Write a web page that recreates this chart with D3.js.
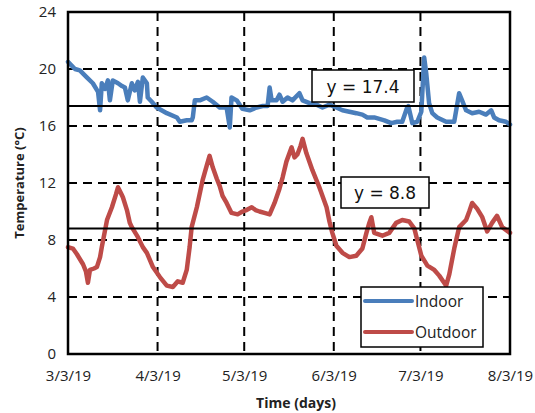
<!DOCTYPE html>
<html>
<head>
<meta charset="utf-8">
<script src="https://cdn.jsdelivr.net/npm/d3@7"></script>
<style>
  html, body { margin: 0; padding: 0; background: #fff; }
  svg { display: block; }
</style>
</head>
<body>
<svg id="chart" width="535" height="413"></svg>
<script>
// Temperature log, days counted from 3 March 2019
const indoorDays = [0, 2.4, 4.1, 6.6, 8.6, 10.4, 11.1, 11.7, 12.8, 13.8, 14.5, 15.5, 17.3, 18.7, 19.7, 20.7,
  22.1, 23.1, 24.2, 24.9, 25.9, 27.3, 27.6, 29.0, 30.7, 34.2, 37.7, 38.7, 41.1, 42.8, 43.2, 43.9,
  45.6, 48.0, 50.1, 52.5, 54.9, 56.0, 56.6, 58.4, 60.4, 62.9, 65.3, 67.4, 69.1, 69.8, 70.5, 72.2,
  73.2, 74.3, 76.0, 77.7, 80.1, 81.2, 83.6, 86.0, 88.1, 90.5, 92.9, 95.0, 97.4, 99.8, 101.9, 103.6,
  106.0, 109.5, 111.9, 114.0, 115.7, 117.4, 117.8, 119.2, 120.9, 122.3, 123.3, 124.0, 125.0, 126.1,
  127.8, 130.9, 133.7, 135.4, 136.4, 137.8, 139.9, 142.3, 144.7, 146.5, 147.5, 149.2, 151.6, 153.0];
const indoorTemp = [20.5, 20.0, 19.9, 19.4, 19.0, 18.4, 17.1, 19.0, 18.6, 19.2, 17.8, 19.2, 19.0, 18.8, 18.7, 17.8,
  19.0, 18.5, 19.1, 17.7, 19.4, 19.0, 18.0, 17.7, 17.3, 16.9, 16.6, 16.3, 16.4, 16.4, 16.6, 17.8,
  17.8, 18.0, 17.7, 17.3, 17.3, 15.9, 18.0, 17.8, 17.2, 17.1, 17.3, 17.4, 17.4, 18.7, 17.8, 17.8,
  18.2, 17.7, 18.0, 17.8, 18.3, 17.8, 17.6, 17.5, 17.3, 17.5, 17.3, 17.1, 17.0, 16.9, 16.8, 16.6,
  16.6, 16.4, 16.2, 16.3, 16.3, 17.3, 17.4, 16.2, 16.3, 17.0, 20.8, 19.7, 17.6, 16.9,
  16.6, 16.3, 16.3, 18.3, 17.8, 17.1, 16.9, 17.0, 16.8, 17.1, 16.6, 16.4, 16.3, 16.1];

const outdoorDays = [0, 1.7, 3.1, 5.2, 6.2, 6.9, 7.6, 9.0, 10.0, 11.1, 11.7, 13.5, 15.2, 16.6, 17.3, 18.3,
  19.0, 20.4, 21.4, 22.1, 24.2, 25.9, 27.3, 29.4, 31.8, 34.2, 36.3, 38.0, 39.7, 41.1, 42.1, 42.8,
  44.6, 46.6, 48.0, 49.0, 50.1, 51.5, 52.5, 53.5, 54.9, 56.6, 58.7, 60.4, 61.8, 63.6, 64.9, 66.3,
  68.0, 69.8, 71.5, 73.2, 74.3, 75.6, 77.4, 78.4, 79.4, 80.5, 81.2, 82.5, 84.6, 87.0, 89.5, 90.5,
  91.5, 92.9, 95.0, 97.4, 99.8, 101.9, 103.3, 104.3, 105.0, 106.0, 108.8, 111.2, 113.6, 115.7, 118.1,
  119.9, 120.9, 122.3, 124.4, 126.8, 128.5, 130.2, 130.9, 132.0, 133.7, 135.4, 137.8, 138.9, 139.9,
  141.6, 143.4, 145.1, 146.8, 148.5, 150.3, 153.0];
const outdoorTemp = [7.5, 7.4, 7.0, 6.3, 5.8, 5.0, 5.9, 6.0, 6.1, 6.8, 7.5, 9.4, 10.3, 11.2, 11.7, 11.3,
  11.0, 10.1, 9.2, 8.9, 8.2, 7.5, 7.1, 6.1, 5.4, 4.8, 4.7, 5.1, 5.0, 5.9, 7.5, 8.9,
  10.3, 12.2, 13.2, 13.9, 13.1, 12.3, 11.8, 11.1, 10.6, 9.9, 9.8, 10.0, 10.1, 10.3, 10.1, 10.0,
  9.9, 9.8, 10.6, 11.6, 12.4, 13.5, 14.5, 13.8, 14.0, 14.6, 15.1, 14.1, 12.9, 11.7, 10.3, 9.3,
  8.5, 7.6, 7.1, 6.8, 6.9, 7.4, 8.5, 9.2, 9.6, 8.5, 8.3, 8.5, 9.2, 9.4, 9.3,
  8.8, 8.0, 6.9, 6.2, 5.9, 5.5, 5.0, 4.8, 5.6, 7.4, 8.9, 9.4, 10.0, 10.6,
  10.2, 9.6, 8.6, 9.2, 9.7, 8.9, 8.5];

const seriesNames = ["Indoor", "Outdoor"];
const seriesColors = ["#4a7ebb", "#be4b48"];
const meanValues = [17.4, 8.8];
const meanLabels = ["y = 17.4", "y = 8.8"];
const yTicks = [0, 4, 8, 12, 16, 20, 24];
const xTickDates = ["2019-03-03", "2019-04-03", "2019-05-03", "2019-06-03", "2019-07-03", "2019-08-03"];

const startMs = Date.UTC(2019, 2, 3);
const dayMs = 86400000;
const toDate = d => new Date(startMs + d * dayMs);
const tickDates = xTickDates.map(s => new Date(s + "T00:00:00Z"));

const svg = d3.select("#chart");
const m = { left: 68, right: 510, top: 12, bottom: 354 };

const x = d3.scaleUtc().domain([tickDates[0], tickDates[tickDates.length - 1]]).range([m.left, m.right]);
const y = d3.scaleLinear().domain([0, 24]).range([m.bottom, m.top]);

const fontTick = "'Open Sans', 'Liberation Sans', sans-serif";

// dashed grid
const grid = svg.append("g").attr("stroke", "#000").attr("stroke-width", 2).attr("stroke-dasharray", "9,6");
grid.selectAll("line.h").data(yTicks.filter(v => v > 0 && v < 24)).join("line")
  .attr("x1", m.left).attr("x2", m.right).attr("y1", d => y(d)).attr("y2", d => y(d));
grid.selectAll("line.v").data(tickDates.slice(1, -1)).join("line")
  .attr("y1", m.top).attr("y2", m.bottom).attr("x1", d => x(d)).attr("x2", d => x(d));

// series
const line = d3.line().x(d => x(d[0])).y(d => y(d[1])).curve(d3.curveLinear);
const series = [
  d3.zip(indoorDays.map(toDate), indoorTemp),
  d3.zip(outdoorDays.map(toDate), outdoorTemp)
];
svg.append("g").selectAll("path").data(series).join("path")
  .attr("d", line)
  .attr("fill", "none")
  .attr("stroke", (d, i) => seriesColors[i])
  .attr("stroke-width", 4.5)
  .attr("stroke-linejoin", "round")
  .attr("stroke-linecap", "round");

// mean lines
svg.append("g").selectAll("line").data(meanValues).join("line")
  .attr("x1", m.left).attr("x2", m.right)
  .attr("y1", d => y(d)).attr("y2", d => y(d))
  .attr("stroke", "#000").attr("stroke-width", 2);

// plot frame
svg.append("rect")
  .attr("x", m.left).attr("y", m.top)
  .attr("width", m.right - m.left).attr("height", m.bottom - m.top)
  .attr("fill", "none").attr("stroke", "#000").attr("stroke-width", 2.5);

// axes
const yAxis = d3.axisLeft(y).tickValues(yTicks).tickSize(0).tickPadding(12);
const gy = svg.append("g").attr("transform", `translate(${m.left},0)`).call(yAxis);
gy.select(".domain").remove();
gy.selectAll("text").attr("font-family", fontTick).attr("font-size", 15).attr("fill", "#222");

const xAxis = d3.axisBottom(x).tickValues(tickDates).tickFormat(d3.utcFormat("%-m/%-d/%y")).tickSize(0).tickPadding(16);
const gx = svg.append("g").attr("transform", `translate(0,${m.bottom})`).call(xAxis);
gx.select(".domain").remove();
gx.selectAll("text").attr("font-family", fontTick).attr("font-size", 15).attr("fill", "#222");

// axis titles
svg.append("text")
  .attr("x", 296).attr("y", 408)
  .attr("text-anchor", "middle")
  .attr("font-family", fontTick).attr("font-weight", "bold").attr("font-size", 14).attr("fill", "#222")
  .text("Time (days)");
svg.append("text")
  .attr("transform", `translate(24,${(m.top + m.bottom) / 2}) rotate(-90)`)
  .attr("text-anchor", "middle")
  .attr("font-family", fontTick).attr("font-weight", "bold").attr("font-size", 13).attr("fill", "#222")
  .text("Temperature (°C)");

// mean value labels
const labelBoxes = [
  { x0: 312, x1: 414, y0: 70, y1: 102 },
  { x0: 341, x1: 429, y0: 177, y1: 208 }
];
labelBoxes.forEach((b, i) => {
  svg.append("rect")
    .attr("x", b.x0).attr("y", b.y0).attr("width", b.x1 - b.x0).attr("height", b.y1 - b.y0)
    .attr("fill", "#fff").attr("stroke", "#000").attr("stroke-width", 1.5);
  svg.append("text")
    .attr("x", (b.x0 + b.x1) / 2).attr("y", (b.y0 + b.y1) / 2 + 6.5)
    .attr("text-anchor", "middle")
    .attr("font-family", "'DejaVu Sans', Verdana, sans-serif").attr("font-size", 17).attr("fill", "#111")
    .text(meanLabels[i]);
});

// legend
const lg = svg.append("g");
lg.append("rect").attr("x", 361).attr("y", 287).attr("width", 122).attr("height", 60)
  .attr("fill", "#fff").attr("stroke", "#000").attr("stroke-width", 1.5);
seriesNames.forEach((name, i) => {
  const ly = 301 + i * 31;
  lg.append("line").attr("x1", 365).attr("x2", 412).attr("y1", ly).attr("y2", ly)
    .attr("stroke", seriesColors[i]).attr("stroke-width", 4).attr("stroke-linecap", "round");
  lg.append("text").attr("x", 415).attr("y", ly + 5.5)
    .attr("font-family", fontTick).attr("font-size", 15.5).attr("fill", "#222")
    .text(name);
});
</script>
</body>
</html>
